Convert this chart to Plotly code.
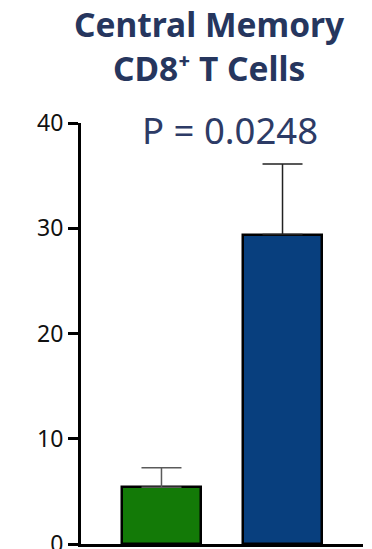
import plotly.graph_objects as go

# Group means with upper SEM
groups = ["Control", "Treated"]
means = [5.4, 29.4]
sem_upper = [1.85, 6.7]
bar_colors = ["#137a07", "#083f7e"]
err_colors = ["#5a5a5a", "#222222"]

y_ticks = [0, 10, 20, 30, 40]
title_lines = ["Central Memory", "CD8\u207a T Cells"]
p_label = "P = 0.0248"

navy = "#26365e"

fig = go.Figure()
for i, g in enumerate(groups):
    fig.add_trace(go.Bar(
        x=[i], y=[means[i]], name=g,
        width=0.653,
        marker=dict(color=bar_colors[i], line=dict(color="black", width=2.5)),
        error_y=dict(type="data", symmetric=False, array=[sem_upper[i]],
                     arrayminus=[0], color=err_colors[i], thickness=1.5, width=20),
        showlegend=False,
    ))

fig.update_layout(
    width=372, height=549,
    margin=dict(l=81, r=9, t=123, b=5, autoexpand=False),
    paper_bgcolor="white", plot_bgcolor="white",
    xaxis=dict(range=[-0.665, 1.665], showticklabels=False, ticks="",
               showgrid=False, zeroline=False, showline=True,
               linecolor="black", linewidth=3, automargin=False),
    yaxis=dict(range=[0, 40], tickvals=y_ticks, ticks="outside", ticklen=10,
               tickwidth=3, tickcolor="black", showgrid=False, zeroline=False,
               showline=True, linecolor="black", linewidth=3,
               ticklabeloverflow="allow", automargin=False,
               tickfont=dict(family="Noto Sans", size=23, color="#111111")),
    bargap=0,
)

# Two-line bold heading
fig.add_annotation(text="<b>" + "<br>".join(title_lines) + "</b>",
                   xref="paper", yref="paper",
                   x=(209 - 81) / 282, y=(549 - 5 - 46.5) / 421,
                   xanchor="center", yanchor="middle", showarrow=False,
                   font=dict(family="Noto Sans", size=33.5, color=navy))
fig.add_annotation(text=p_label, xref="paper", yref="paper",
                   x=(229.5 - 81) / 282, y=(549 - 5 - 130) / 421, xanchor="center",
                   yanchor="middle", showarrow=False,
                   font=dict(family="Noto Sans", size=36.5, color="#2d3b66"))

fig.write_html("out.html")
